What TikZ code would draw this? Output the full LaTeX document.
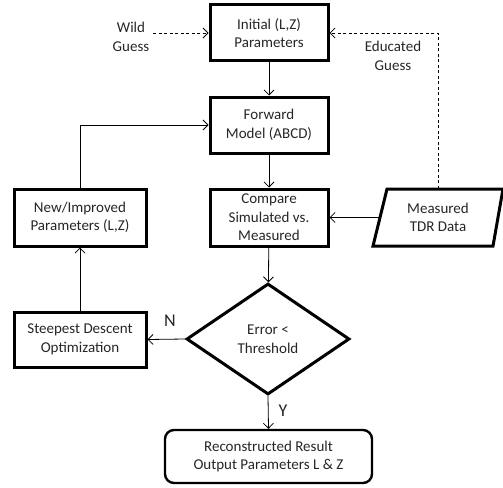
\documentclass[tikz,border=0pt]{standalone}
\usepackage{fontspec}
\setmainfont{Carlito}
\usetikzlibrary{shapes.geometric,arrows.meta}
\begin{document}
\begin{tikzpicture}[x=1pt,y=-1pt,
  every node/.style={font=\fontsize{15}{18.5}\selectfont, text=black!85, align=center},
  box/.style={draw, line width=3pt, minimum width=118pt, minimum height=56pt, inner sep=1pt},
  sbox/.style={box, minimum width=132pt},
  arr/.style={line width=0.8pt, -{Straight Barb[length=5pt,width=10pt]}},
  darr/.style={arr, dash pattern=on 3pt off 2.5pt}]
\useasboundingbox (0,0) rectangle (503,487);
\node[box] (init) at (269,33) {Initial (L,Z)\\Parameters};
\node[box] (fwd) at (269,125) {Forward\\Model (ABCD)};
\node[box, minimum height=57pt] (cmp) at (269,217.5) {Compare\\Simulated vs.\\Measured};
\node[sbox, minimum height=57pt] (new) at (80,217.5) {New/Improved\\Parameters (L,Z)};
\node[minimum width=116pt, minimum height=57pt, inner sep=0pt] (meas) at (438,217.5) {Measured\\TDR Data};
\draw[line width=3pt, line join=miter] (373,246) -- (387,189) -- (503,189) -- (493,246) -- cycle;
\node[diamond, draw, line width=3pt, minimum width=163pt, minimum height=111pt, inner sep=0pt] (err) at (268,339) {Error <\\Threshold};
\node[sbox, minimum height=55pt] (sd) at (80,339.5) {Steepest Descent\\Optimization};
\node[draw, line width=2.4pt, rounded corners=9pt, minimum width=207pt, minimum height=53pt] (res) at (268.5,456.5) {Reconstructed Result\\Output Parameters L \& Z};
\node (wild) at (131,37) {Wild\\Guess};
\node (edu) at (393,56) {Educated\\Guess};
\node[font=\fontsize{18}{20}\selectfont] (nlab) at (170,321) {N};
\node[font=\fontsize{18}{20}\selectfont] (ylab) at (283,411) {Y};
\coordinate (wg) at (153,33);
\draw[arr] (init) -- (fwd);
\draw[arr] (fwd) -- (cmp);
\draw[arr] (cmp) -- (err);
\draw[arr] (err.south) -- (res.north);
\draw[arr] (err.west) -- (sd.east);
\draw[arr] (sd.north) -- (new.south);
\draw[arr] (new.north) |- (fwd.west);
\draw[arr] (meas.west) -- (cmp.east);
\draw[darr] (wg) -- (init.west);
\draw[darr] (meas.north) |- (init.east);
\end{tikzpicture}
\end{document}
